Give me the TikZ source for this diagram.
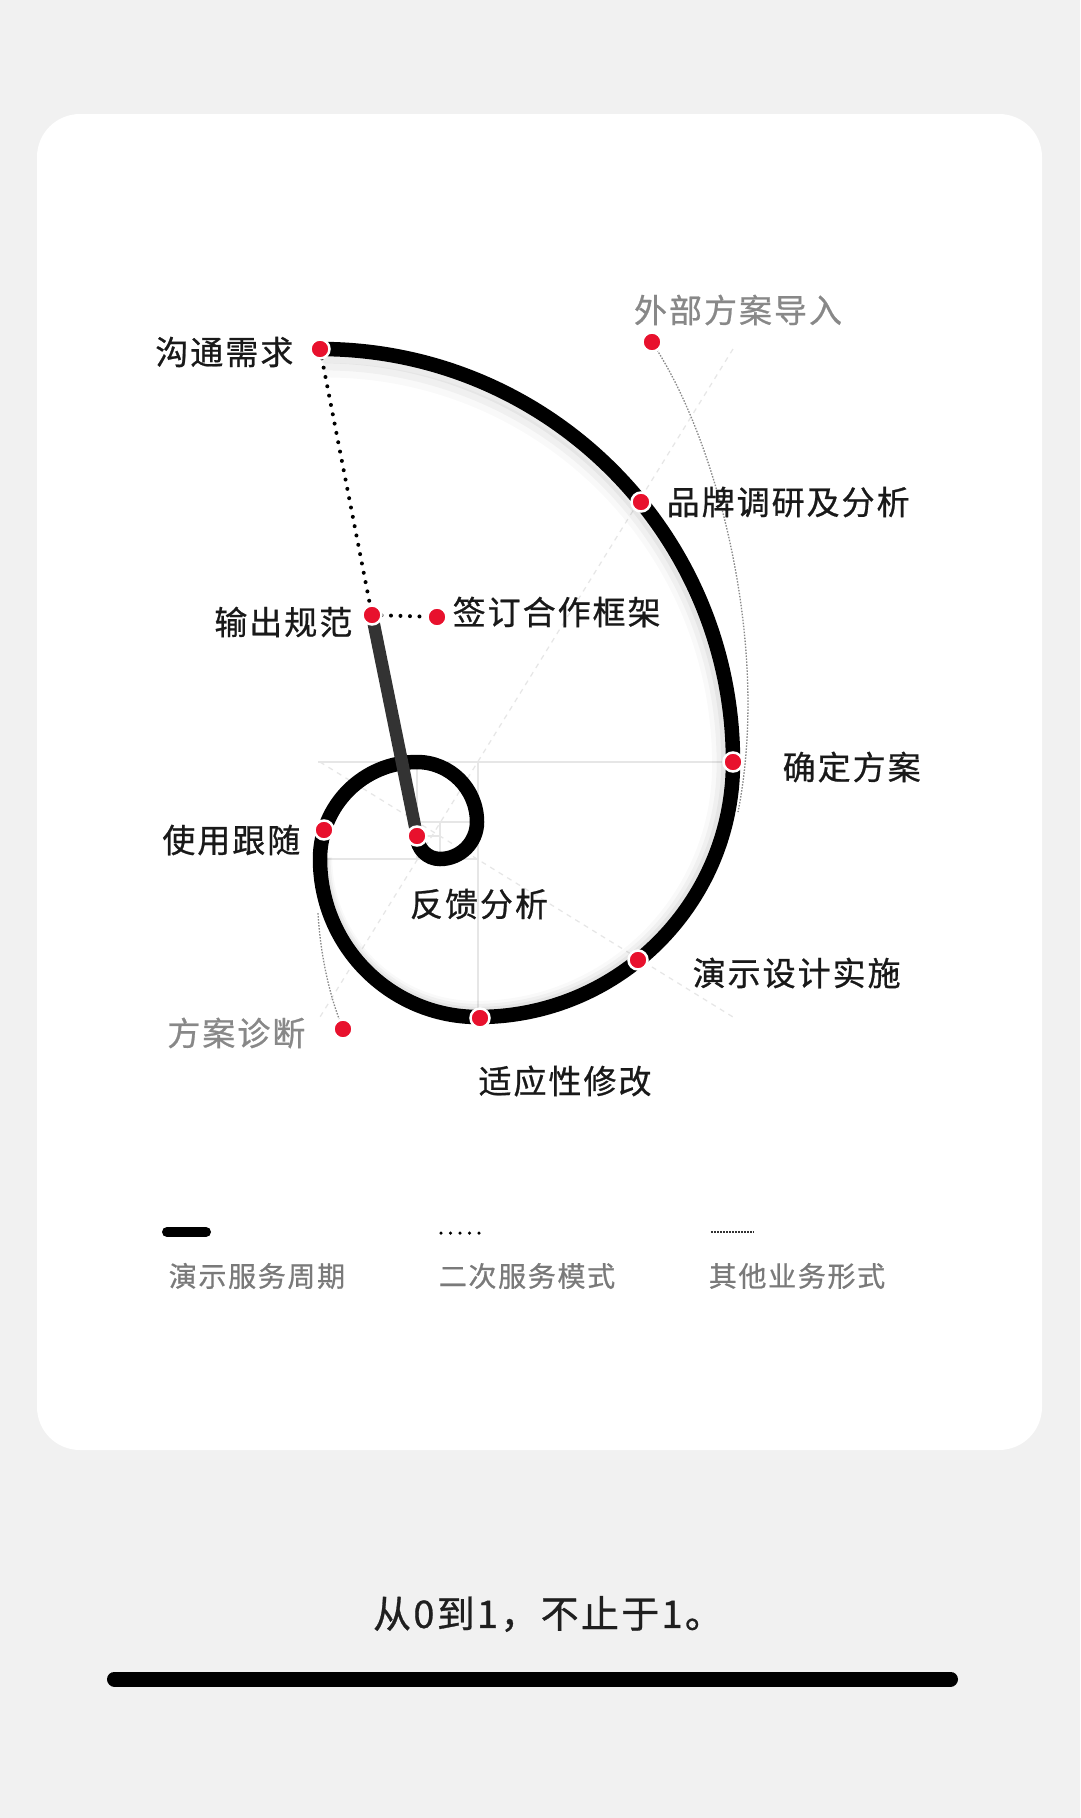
\documentclass[tikz,border=0pt]{standalone}
\usepackage{fontspec}
\newfontfamily\cjkfont[LetterSpace=6, FakeBold=0.7]{Noto Sans CJK SC}
\definecolor{dotred}{RGB}{232,17,45}
\definecolor{pagegray}{RGB}{241,241,241}
\definecolor{guidegray}{RGB}{230,230,230}
\definecolor{labelgray}{RGB}{136,136,136}
\definecolor{bargray}{RGB}{51,51,51}
\usepackage{tikz}
\usetikzlibrary{
  positioning,
  backgrounds
}

\begin{document}
\begin{tikzpicture}[x=1pt, y=-1pt,
  stop/.style={circle, fill=dotred, draw=white, line width=2.5pt, minimum size=19pt, inner sep=0pt, outer sep=0pt},
  lbl/.style={inner sep=0pt, font=\cjkfont\fontsize{33}{40}\selectfont, text=black!90},
  lblgray/.style={lbl, text=labelgray},
  legend/.style={inner sep=0pt, font=\cjkfont\fontsize{28}{34}\selectfont, text=labelgray!90!black},
  spiral/.style={line width=14.5pt, black},
  service/.style={line width=4pt, black, line cap=round, dash pattern=on 0pt off 9.5pt},
  other/.style={line width=1.3pt, labelgray, dash pattern=on 1.5pt off 1.5pt},
  guide/.style={line width=1.2pt, guidegray},
  diag/.style={line width=1.2pt, guidegray, dash pattern=on 5pt off 5pt}
]
  % Stops on the spiral
  \node[stop] (dtalk) at (320,349) {};
  \node[stop] (dbrand) at (641,502) {};
  \node[stop] (dconf) at (733,762) {};
  \node[stop] (ddemo) at (638,960) {};
  \node[stop] (dadapt) at (480,1018) {};
  \node[stop] (duse) at (324,830) {};
  \node[stop] (dfb) at (417,836) {};

  % Side stops
  \node[stop] (dout) at (372,615) {};
  \node[stop] (dsign) at (437,617) {};
  \node[stop] (dext) at (652,342) {};
  \node[stop] (ddiag) at (343,1029) {};
  \coordinate (jconf) at (738,812);
  \coordinate (juse) at (318,913);

  % Labels
  \node[lbl, left=17pt of dtalk, yshift=-3pt] (ltalk) {沟通需求};
  \node[lbl, right=16pt of dbrand] (lbrand) {品牌调研及分析};
  \node[lbl, right=40pt of dconf, yshift=-5pt] (lconf) {确定方案};
  \node[lbl, right=45pt of ddemo, yshift=-13pt] (ldemo) {演示设计实施};
  \node[lbl] (ladapt) at (565,1081) {适应性修改};
  \node[lbl, left=14pt of duse, yshift=-10pt] (luse) {使用跟随};
  \node[lbl] (lfb) at (479,904) {反馈分析};
  \node[lbl, left=10pt of dout, yshift=-7pt] (lout) {输出规范};
  \node[lbl, right=6pt of dsign, yshift=5pt] (lsign) {签订合作框架};
  \node[lblgray] (lext) at (738,310) {外部方案导入};
  \node[lblgray, left=28pt of ddiag, yshift=-4pt] (ldiag) {方案诊断};

  % Legend
  \node[legend] (lgcycle) at (257,1276) {演示服务周期};
  \node[legend] (lgsecond) at (527,1276) {二次服务模式};
  \node[legend] (lgother) at (797,1276) {其他业务形式};

  % Motto
  \node[inner sep=0pt, font=\cjkfont\fontsize{38}{44}\selectfont, text=black!88] (motto) at (548,1614) {从0到1，不止于1。};

  \begin{scope}[on background layer]
    \fill[pagegray] (0,0) rectangle (1080,1818);
    \fill[white, rounded corners=43pt] (37,114) rectangle (1042,1450);

    % Golden rectangles
    \draw[guide] (318,762) -- (733,762);
    \draw[guide] (478,762) -- (478,1017);
    \draw[guide] (322,859) -- (478,859);
    \draw[guide] (417,762) -- (417,859);
    \draw[guide] (417,822) -- (478,822);
    \draw[guide] (440,822) -- (440,859);
    \draw[guide] (417,836) -- (440,836);
    \draw[diag] (733,349) -- (320,1017);
    \draw[diag] (320,762) -- (733,1017);

    % Soft shadow
    \foreach \s/\o in {0.955/0.025, 0.97/0.035, 0.985/0.045}
      \draw[spiral, opacity=\o, scale around={\s:(430,820)}] (320,349)
        arc[start angle=270, end angle=360, radius=413]
        arc[start angle=0, end angle=90, radius=255]
        arc[start angle=90, end angle=180, radius=158];

    % Service cycle
    \draw[spiral] (dtalk.center)
      arc[start angle=270, end angle=360, radius=413]
      arc[start angle=0, end angle=90, radius=255]
      arc[start angle=90, end angle=180, radius=158]
      arc[start angle=180, end angle=270, radius=97]
      arc[start angle=270, end angle=360, radius=60]
      arc[start angle=0, end angle=90, radius=37]
      arc[start angle=90, end angle=180, radius=23];

    % Second service and other business
    \draw[service] (dtalk) -- (dout);
    \draw[service] (dout) -- (dsign);
    \draw[line width=12.5pt, bargray] (dout.center) -- (dfb.center);
    \draw[other] (dext) .. controls (720,450) and (770,650) .. (jconf);
    \draw[other] (ddiag) .. controls (328,990) and (320,950) .. (juse);

    % Legend samples
    \draw[line width=10pt, black, line cap=round] (167,1232) -- (206,1232);
    \draw[service, line width=3.5pt] (441,1233) -- (480,1233);
    \draw[line width=1.5pt, black!80, dash pattern=on 1.5pt off 1.5pt] (711,1232) -- (754,1232);

    % Bottom bar
    \draw[line width=15pt, black, line cap=round] (114.5,1679) -- (950.5,1679);
  \end{scope}
\end{tikzpicture}
\end{document}
